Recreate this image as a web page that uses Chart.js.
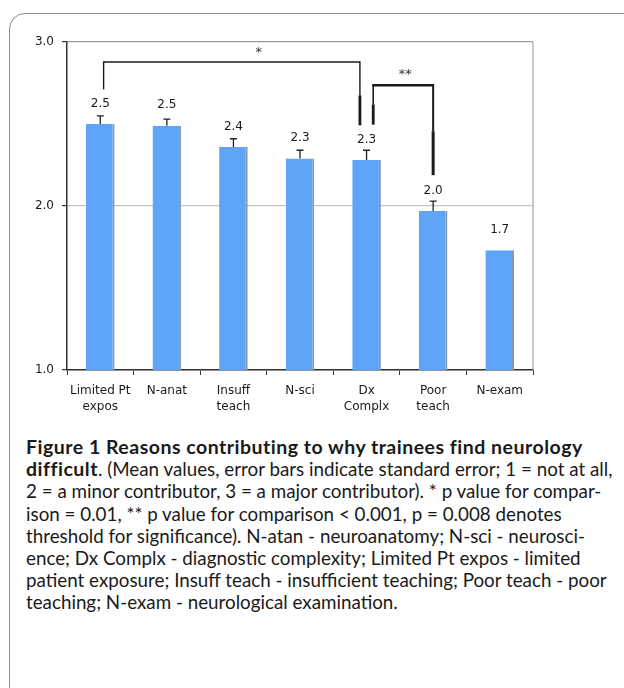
<!DOCTYPE html>
<html>
<head>
<meta charset="utf-8">
<script src="https://cdn.jsdelivr.net/npm/chart.js@4.4.1/dist/chart.umd.min.js"></script>
<style>
  html, body { margin: 0; padding: 0; background: #fff; }
  body { width: 624px; height: 688px; position: relative; overflow: hidden; }
  #frame { position: absolute; left: 9px; top: 13px; width: 760px; height: 900px;
           border: 1px solid #8c8c8c; border-radius: 16px; box-sizing: border-box; }
  #wrap { position: absolute; left: 0; top: 0; width: 624px; height: 430px; }
  #caption { position: absolute; left: 26px; top: 436px; font-family: Lato, "Open Sans", sans-serif;
             font-size: 18.8px; line-height: 22.2px; color: #1a1a1a; white-space: nowrap; }
  #caption b { font-weight: 700; font-size: 19.5px; letter-spacing: 0.5px; }
</style>
</head>
<body>
<div id="frame"></div>
<div id="wrap"><canvas id="c" width="624" height="430"></canvas></div>
<div id="caption">
<b>Figure 1 Reasons contributing to why trainees find neurology</b><br>
<b>difficult</b>. (Mean values, error bars indicate standard error; 1 = not at all,<br>
2 = a minor contributor, 3 = a major contributor). * p value for compar-<br>
ison = 0.01, ** p value for comparison &lt; 0.001, p = 0.008 denotes<br>
threshold for significance). N-atan - neuroanatomy; N-sci - neurosci-<br>
ence; Dx Complx - diagnostic complexity; Limited Pt expos - limited<br>
patient exposure; Insuff teach - insufficient teaching; Poor teach - poor<br>
teaching; N-exam - neurological examination.
</div>
<script>
// ---- data ----
const categories = [["Limited Pt", "expos"], "N-anat", ["Insuff", "teach"], "N-sci", ["Dx", "Complx"], ["Poor", "teach"], "N-exam"];
const meanValues = [2.50, 2.49, 2.36, 2.29, 2.28, 1.97, 1.73];
const stdErrors  = [0.05, 0.04, 0.05, 0.05, 0.06, 0.06, 0.00];
const yTicks = [1.0, 2.0, 3.0];
// significance brackets (category index, offsets in category units, levels in value units)
const bracketStar   = { from: 0, fromOff: 0.05, to: 4, toOff: -0.1, top: 2.878, fromBottom: 2.711, toBottom: 2.492, toThickFrom: 2.675, textAt: 2.38, text: "*" };
const bracketDouble = { from: 4, fromOff: 0.1, to: 5, toOff: 0, top: 2.736, fromBottom: 2.496, toBottom: 2.188, fromThickFrom: 2.62, toThickFrom: 2.456, textAt: 4.58, text: "**" };

const FONT = "'DejaVu Sans', Verdana, sans-serif";

const extrasPlugin = {
  id: 'extras',
  afterDatasetsDraw(chart) {
    const ctx = chart.ctx;
    const xs = chart.scales.x, ys = chart.scales.y;
    const ca = chart.chartArea;
    const meta = chart.getDatasetMeta(0);
    ctx.save();
    // right plot border
    ctx.strokeStyle = '#a6a6a6'; ctx.lineWidth = 1.2;
    ctx.beginPath(); ctx.moveTo(ca.right, ca.top); ctx.lineTo(ca.right, ca.bottom); ctx.stroke();
    // error bars (upper only) and value labels
    meta.data.forEach((bar, i) => {
      const m = meanValues[i], se = stdErrors[i];
      const yTop = ys.getPixelForValue(m);
      if (se > 0) {
        const yE = ys.getPixelForValue(m + se);
        ctx.strokeStyle = '#222'; ctx.lineWidth = 1.3;
        ctx.beginPath();
        ctx.moveTo(bar.x, yTop); ctx.lineTo(bar.x, yE);
        ctx.moveTo(bar.x - 3.5, yE); ctx.lineTo(bar.x + 3.5, yE);
        ctx.stroke();
      }
      ctx.fillStyle = '#1a1a1a';
      ctx.font = '12px ' + FONT;
      ctx.textAlign = 'center'; ctx.textBaseline = 'middle';
      ctx.fillText(m.toFixed(1), bar.x, yTop - 20.5);
    });
    // brackets
    const px = (idx, off) => xs.getPixelForValue(idx) + off * (xs.getPixelForValue(1) - xs.getPixelForValue(0));
    function line(x1, y1, x2, y2, w) {
      ctx.lineWidth = w; ctx.beginPath(); ctx.moveTo(x1, y1); ctx.lineTo(x2, y2); ctx.stroke();
    }
    ctx.strokeStyle = '#1a1a1a'; ctx.lineCap = 'butt';
    // single star
    let b = bracketStar;
    let x1 = px(b.from, b.fromOff), x2 = px(b.to, b.toOff), yT = ys.getPixelForValue(b.top);
    line(x1, yT, x2, yT, 1.4);
    line(x1, yT - 0.7, x1, ys.getPixelForValue(b.fromBottom), 1.4);
    line(x2, yT - 0.7, x2, ys.getPixelForValue(b.toThickFrom), 1.4);
    line(x2, ys.getPixelForValue(b.toThickFrom), x2, ys.getPixelForValue(b.toBottom), 2.8);
    ctx.fillStyle = '#333'; ctx.font = '13px ' + FONT; ctx.textAlign = 'center'; ctx.textBaseline = 'middle';
    ctx.fillText(b.text, px(0, b.textAt), yT - 9);
    // double star
    b = bracketDouble;
    x1 = px(b.from, b.fromOff); x2 = px(b.to, b.toOff); yT = ys.getPixelForValue(b.top);
    line(x1 - 1, yT, x2 + 1, yT, 2.4);
    line(x1, yT, x1, ys.getPixelForValue(b.fromThickFrom), 1.6);
    line(x1, ys.getPixelForValue(b.fromThickFrom), x1, ys.getPixelForValue(b.fromBottom), 2.8);
    line(x2, yT, x2, ys.getPixelForValue(b.toThickFrom), 2.0);
    line(x2, ys.getPixelForValue(b.toThickFrom), x2, ys.getPixelForValue(b.toBottom), 3.0);
    ctx.fillText(b.text, px(0, b.textAt), yT - 11);
    ctx.restore();
  }
};

new Chart(document.getElementById('c'), {
  type: 'bar',
  data: {
    labels: categories,
    datasets: [{
      data: meanValues,
      backgroundColor: '#5fa5f7',
      borderColor: '#8797ad',
      borderWidth: { top: 0, left: 0, bottom: 0, right: 2 },
      borderSkipped: false,
      barPercentage: 0.43,
      categoryPercentage: 1.0
    }]
  },
  options: {
    responsive: false,
    animation: false,
    events: [],
    layout: { padding: { top: 42, right: 91, left: 0, bottom: 0 } },
    plugins: { legend: { display: false }, tooltip: { enabled: false } },
    scales: {
      x: {
        offset: true,
        grid: { display: true, drawOnChartArea: false, drawTicks: true, tickLength: 5, tickColor: '#333', offset: true },
        border: { display: true, color: '#333', width: 1.5 },
        ticks: { color: '#1a1a1a', font: { family: FONT, size: 12, lineHeight: 1.35 }, padding: 8, maxRotation: 0, autoSkip: false },
        afterFit(s) { s.height = 60; }
      },
      y: {
        min: 1, max: 3,
        afterBuildTicks(s) { s.ticks = yTicks.map(v => ({ value: v })); },
        grid: {
          color: (c) => (c.tick && c.tick.value === 3) ? '#9a9a9a' : '#c4c4c4',
          lineWidth: 1.2, drawTicks: true, tickLength: 5, tickColor: '#333'
        },
        border: { display: true, color: '#333', width: 1.5 },
        ticks: { color: '#1a1a1a', font: { family: FONT, size: 12 }, padding: 8, callback: (v) => Number(v).toFixed(1) },
        afterFit(s) { s.width = 67; }
      }
    }
  },
  plugins: [extrasPlugin]
});
</script>
</body>
</html>
